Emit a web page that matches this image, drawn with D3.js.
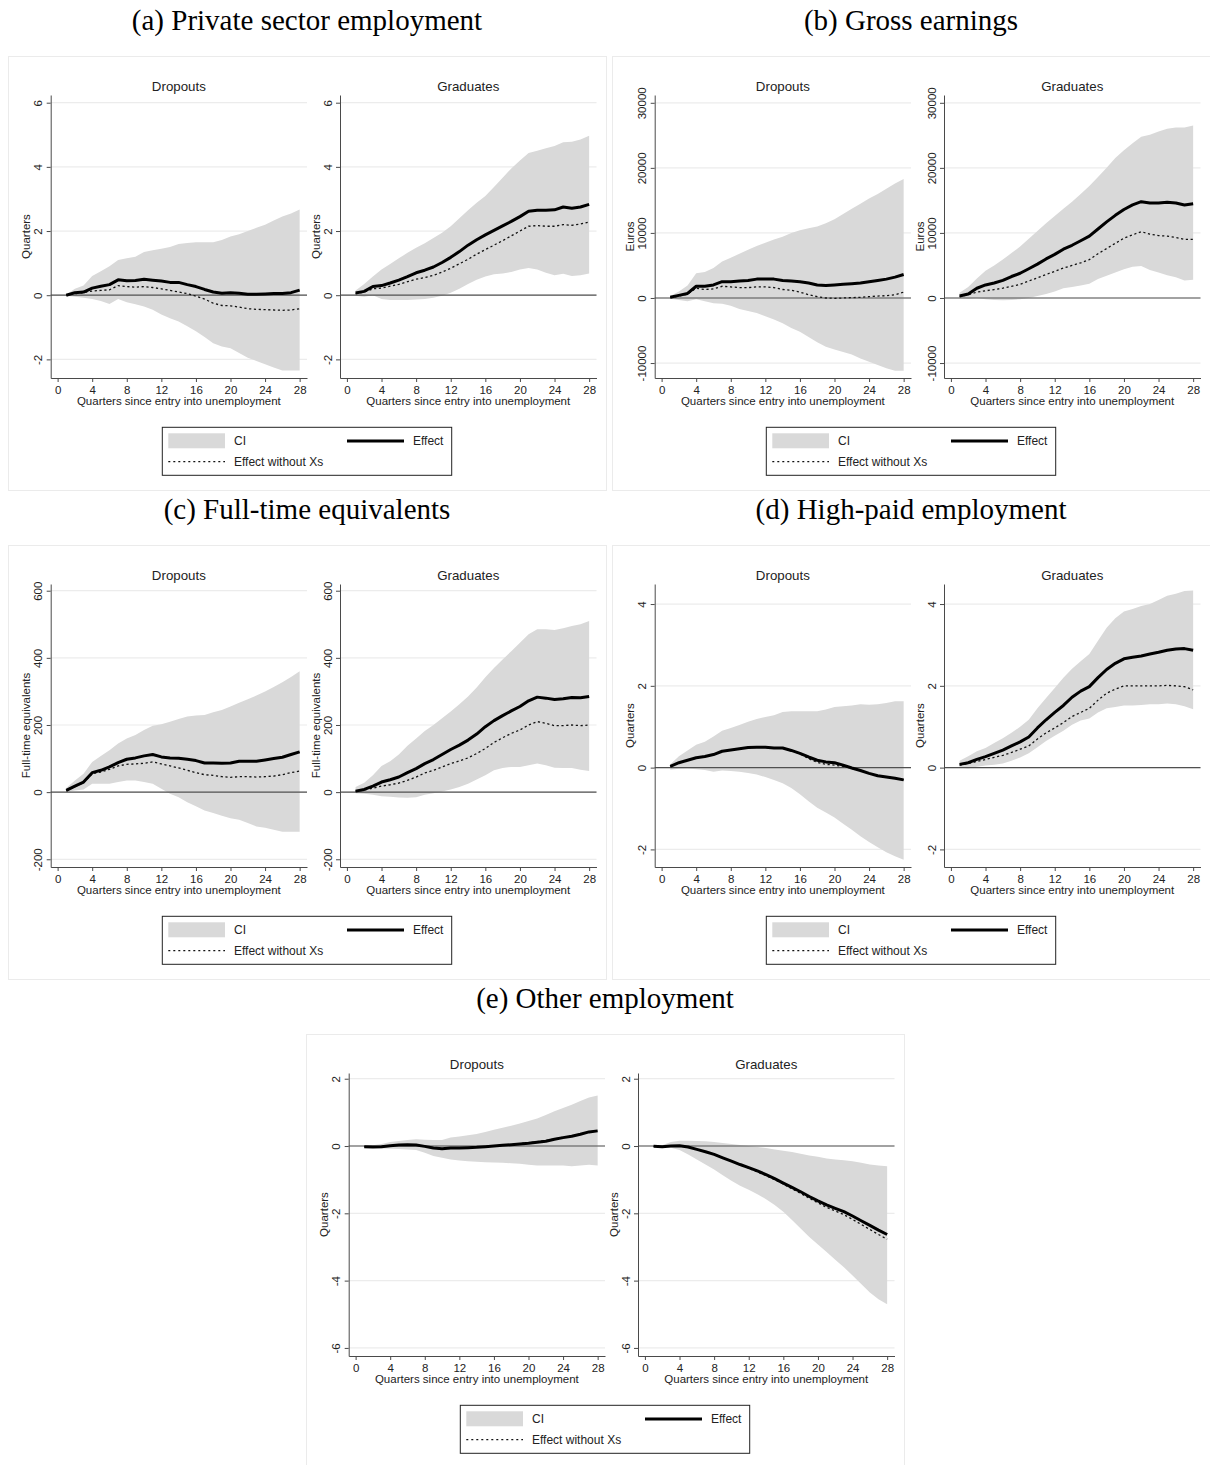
<!DOCTYPE html>
<meta charset="utf-8">
<head>
<script src="https://d3js.org/d3.v7.min.js"></script>
<style>
  body { margin: 0; background: #fff; }
  svg text { font-family: "Liberation Sans", Arial, sans-serif; fill: #222; }
  .ptitle { font-family: "Liberation Serif", "Times New Roman", serif; font-size: 29px; fill: #000; }
</style>
</head>
<body>
<script>
"use strict";
var width = 1210, height = 1465;

// x values and labels
var quarters = d3.range(1, 29);
var xTicks = [0, 4, 8, 12, 16, 20, 24, 28];
var groupNames = ["Dropouts", "Graduates"];
var panelTitles = ["(a) Private sector employment", "(b) Gross earnings", "(c) Full-time equivalents",
                   "(d) High-paid employment", "(e) Other employment"];
var yLabels = ["Quarters", "Euros", "Full-time equivalents", "Quarters", "Quarters"];
var yTicks = [[-2, 0, 2, 4, 6], [-10000, 0, 10000, 20000, 30000], [-200, 0, 200, 400, 600],
              [-2, 0, 2, 4], [-6, -4, -2, 0, 2]];
var legendLabels = ["CI", "Effect", "Effect without Xs"];

// (a) private sector employment
var privDropEffect = [0, .08, .1, .22, .28, .33, .48, .45, .46, .5, .47, .44, .4, .4, .33, .27, .18, .1, .06, .08, .06, .03, .03, .04, .05, .05, .08, .16];
var privDropNoX = [0, .05, .08, .13, .15, .17, .3, .27, .25, .27, .24, .2, .15, .1, .05, -.03, -.12, -.25, -.32, -.33, -.37, -.42, -.44, -.45, -.46, -.47, -.46, -.42];
var privDropLo = [-.02, -.05, -.08, -.12, -.18, -.27, -.12, -.22, -.28, -.35, -.45, -.6, -.72, -.82, -.97, -1.12, -1.3, -1.5, -1.6, -1.65, -1.8, -1.95, -2.05, -2.15, -2.25, -2.35, -2.35, -2.35];
var privDropHi = [.02, .2, .3, .6, .75, .9, 1.1, 1.15, 1.2, 1.35, 1.4, 1.45, 1.5, 1.6, 1.63, 1.65, 1.65, 1.65, 1.72, 1.83, 1.9, 2.0, 2.1, 2.2, 2.33, 2.45, 2.55, 2.67];
var privGradEffect = [.07, .12, .27, .3, .38, .47, .58, .7, .78, .88, 1.02, 1.18, 1.36, 1.56, 1.73, 1.88, 2.02, 2.16, 2.3, 2.45, 2.62, 2.65, 2.65, 2.66, 2.75, 2.71, 2.75, 2.83];
var privGradNoX = [.05, .1, .2, .22, .28, .34, .42, .5, .55, .62, .72, .84, .98, 1.12, 1.28, 1.42, 1.56, 1.7, 1.85, 2.0, 2.15, 2.17, 2.15, 2.15, 2.2, 2.18, 2.22, 2.28];
var privGradLo = [-.02, -.05, 0, -.12, -.15, -.15, -.15, -.13, -.12, -.08, -.02, .08, .2, .35, .48, .58, .65, .68, .72, .8, .85, .8, .7, .62, .67, .6, .62, .68];
var privGradHi = [.15, .35, .58, .8, .97, 1.15, 1.32, 1.48, 1.62, 1.78, 1.95, 2.15, 2.4, 2.65, 2.88, 3.09, 3.37, 3.66, 3.95, 4.2, 4.43, 4.5, 4.58, 4.65, 4.77, 4.78, 4.85, 4.97];

// (b) gross earnings
var earnDropEffect = [100, 400, 700, 1800, 1800, 2000, 2500, 2500, 2600, 2700, 2900, 2900, 2900, 2700, 2600, 2500, 2300, 2000, 1900, 2000, 2100, 2200, 2300, 2500, 2700, 2900, 3200, 3600];
var earnDropNoX = [50, 300, 600, 1500, 1300, 1400, 1800, 1700, 1600, 1600, 1700, 1700, 1600, 1300, 1200, 900, 500, 200, 0, -50, 0, 50, 100, 200, 300, 350, 500, 900];
var earnDropLo = [-100, -300, -500, -200, -500, -800, -900, -1200, -1700, -2000, -2300, -2800, -3300, -3900, -4600, -5200, -6000, -6800, -7500, -7900, -8300, -8700, -9300, -9800, -10300, -10800, -11200, -11200];
var earnDropHi = [300, 1000, 1900, 3800, 4000, 4600, 5600, 6200, 6800, 7400, 8000, 8500, 9000, 9400, 10000, 10400, 10700, 11000, 11500, 12100, 12900, 13700, 14500, 15300, 16000, 16800, 17600, 18300];
var earnGradEffect = [300, 600, 1500, 2000, 2300, 2700, 3300, 3800, 4500, 5200, 6000, 6700, 7500, 8100, 8800, 9500, 10600, 11700, 12700, 13600, 14300, 14800, 14600, 14600, 14700, 14600, 14300, 14500];
var earnGradNoX = [200, 500, 900, 1100, 1300, 1500, 1800, 2100, 2600, 3100, 3600, 4100, 4600, 5000, 5400, 5900, 6800, 7600, 8400, 9200, 9700, 10200, 9800, 9600, 9500, 9300, 9000, 9000];
var earnGradLo = [0, -100, 0, -200, -300, -350, -300, -200, 0, 300, 600, 1000, 1500, 1700, 1900, 2200, 2900, 3400, 3900, 4400, 4800, 4900, 4300, 3900, 3500, 3200, 2700, 2800];
var earnGradHi = [800, 1700, 3000, 4200, 5000, 5900, 6900, 7900, 9100, 10300, 11500, 12600, 13700, 14800, 16000, 17200, 18600, 20000, 21500, 22700, 23800, 24800, 25100, 25600, 26000, 26200, 26200, 26500];

// (c) full-time equivalents
var fteDropEffect = [5, 18, 30, 58, 65, 75, 88, 98, 102, 108, 112, 105, 102, 101, 98, 94, 87, 87, 86, 87, 92, 92, 92, 96, 100, 104, 112, 120];
var fteDropNoX = [4, 16, 28, 55, 60, 68, 78, 83, 84, 86, 90, 84, 78, 72, 65, 58, 52, 50, 46, 44, 46, 46, 45, 46, 48, 52, 58, 63];
var fteDropLo = [0, 5, 8, 25, 25, 25, 30, 35, 35, 30, 25, 10, -5, -15, -30, -42, -55, -62, -70, -78, -82, -92, -102, -106, -112, -118, -118, -118];
var fteDropHi = [12, 35, 55, 90, 108, 125, 145, 160, 170, 185, 198, 202, 210, 218, 225, 228, 230, 238, 245, 255, 266, 277, 288, 300, 313, 327, 343, 360];
var fteGradEffect = [3, 8, 18, 30, 37, 45, 58, 70, 85, 97, 112, 127, 140, 155, 173, 195, 213, 228, 242, 255, 272, 283, 280, 276, 278, 282, 281, 285];
var fteGradNoX = [2, 6, 12, 18, 22, 27, 35, 45, 57, 65, 75, 85, 93, 102, 115, 130, 148, 162, 175, 185, 200, 210, 205, 198, 198, 200, 198, 200];
var fteGradLo = [-3, -5, -8, -12, -14, -16, -17, -15, -8, -3, 2, 8, 15, 25, 38, 50, 65, 72, 75, 75, 80, 85, 80, 73, 72, 72, 67, 63];
var fteGradHi = [15, 28, 50, 78, 92, 112, 138, 160, 182, 200, 220, 240, 262, 285, 312, 342, 370, 395, 420, 445, 470, 485, 485, 483, 488, 495, 500, 510];

// (d) high-paid employment
var hpDropEffect = [.03, .12, .18, .24, .27, .32, .4, .43, .46, .49, .5, .5, .48, .48, .42, .35, .26, .18, .14, .12, .06, -.01, -.07, -.14, -.2, -.23, -.26, -.3];
var hpDropNoX = [.03, .12, .18, .24, .27, .32, .4, .43, .46, .49, .5, .5, .48, .48, .42, .34, .22, .13, .08, .06, .03, -.02, -.07, -.14, -.2, -.23, -.26, -.3];
var hpDropLo = [-.05, -.03, -.02, -.04, -.06, -.1, -.07, -.08, -.1, -.13, -.17, -.23, -.3, -.38, -.5, -.65, -.82, -.98, -1.1, -1.22, -1.37, -1.52, -1.68, -1.82, -1.95, -2.07, -2.17, -2.25];
var hpDropHi = [.08, .28, .42, .56, .63, .76, .9, .97, 1.04, 1.12, 1.19, 1.24, 1.28, 1.36, 1.38, 1.38, 1.38, 1.38, 1.42, 1.48, 1.5, 1.52, 1.55, 1.54, 1.55, 1.58, 1.62, 1.62];
var hpGradEffect = [.08, .12, .2, .27, .35, .43, .53, .63, .75, .97, 1.17, 1.35, 1.52, 1.72, 1.87, 1.98, 2.2, 2.4, 2.55, 2.66, 2.7, 2.73, 2.78, 2.82, 2.87, 2.9, 2.91, 2.87];
var hpGradNoX = [.06, .1, .15, .2, .25, .3, .37, .45, .53, .7, .85, .97, 1.1, 1.25, 1.35, 1.45, 1.65, 1.82, 1.92, 2.0, 2.0, 2.0, 2.0, 2.0, 2.01, 2.0, 1.98, 1.9];
var hpGradLo = [0, -.02, .02, .05, .07, .1, .17, .25, .35, .5, .65, .78, .9, 1.05, 1.15, 1.2, 1.35, 1.45, 1.48, 1.52, 1.52, 1.53, 1.55, 1.55, 1.57, 1.55, 1.5, 1.43];
var hpGradHi = [.17, .28, .4, .48, .6, .72, .85, 1.0, 1.17, 1.45, 1.7, 1.95, 2.2, 2.42, 2.6, 2.78, 3.1, 3.42, 3.65, 3.82, 3.88, 3.95, 4.0, 4.1, 4.2, 4.25, 4.32, 4.33];

// (e) other employment
var othDropEffect = [-.02, -.03, -.02, .01, .03, .04, .03, -.01, -.06, -.08, -.06, -.06, -.05, -.04, -.02, 0, .02, .04, .06, .08, .11, .14, .2, .25, .29, .35, .42, .45];
var othDropNoX = [-.02, -.03, -.02, .01, .03, .04, .03, -.01, -.06, -.08, -.06, -.06, -.05, -.04, -.02, 0, .02, .04, .07, .1, .13, .16, .21, .26, .3, .35, .42, .45];
var othDropLo = [-.04, -.06, -.07, -.08, -.09, -.1, -.12, -.2, -.3, -.35, -.4, -.43, -.45, -.47, -.48, -.49, -.5, -.51, -.53, -.56, -.58, -.58, -.58, -.58, -.6, -.58, -.56, -.58];
var othDropHi = [0, .02, .06, .12, .15, .18, .2, .19, .18, .18, .25, .28, .32, .36, .42, .48, .54, .6, .67, .74, .82, .92, 1.03, 1.13, 1.23, 1.34, 1.44, 1.5];
var othGradEffect = [-.01, -.02, 0, .01, -.03, -.1, -.17, -.25, -.35, -.45, -.55, -.64, -.74, -.85, -.97, -1.1, -1.23, -1.36, -1.5, -1.63, -1.75, -1.85, -1.95, -2.08, -2.22, -2.36, -2.5, -2.63];
var othGradNoX = [-.01, -.02, 0, .01, -.03, -.1, -.17, -.25, -.35, -.45, -.56, -.66, -.77, -.88, -1.0, -1.13, -1.27, -1.41, -1.55, -1.69, -1.82, -1.93, -2.04, -2.18, -2.33, -2.48, -2.63, -2.77];
var othGradLo = [-.02, -.04, -.05, -.12, -.25, -.4, -.55, -.7, -.87, -1.03, -1.18, -1.3, -1.43, -1.58, -1.75, -1.95, -2.2, -2.45, -2.7, -2.93, -3.15, -3.38, -3.6, -3.85, -4.1, -4.35, -4.55, -4.7];
var othGradHi = [0, .02, .12, .16, .16, .15, .14, .12, .09, .06, .03, 0, -.03, -.06, -.1, -.14, -.18, -.23, -.28, -.32, -.37, -.4, -.42, -.45, -.5, -.55, -.58, -.6];

// layout of the five panels (position + y range of the plot region)
var panels = [
  { x0: 8,   y0: 56,   dom: [-2.58, 6.24],
    groups: [[privDropEffect, privDropNoX, privDropLo, privDropHi], [privGradEffect, privGradNoX, privGradLo, privGradHi]] },
  { x0: 612, y0: 56,   dom: [-12300, 31200],
    groups: [[earnDropEffect, earnDropNoX, earnDropLo, earnDropHi], [earnGradEffect, earnGradNoX, earnGradLo, earnGradHi]] },
  { x0: 8,   y0: 545,  dom: [-223, 620],
    groups: [[fteDropEffect, fteDropNoX, fteDropLo, fteDropHi], [fteGradEffect, fteGradNoX, fteGradLo, fteGradHi]] },
  { x0: 612, y0: 545,  dom: [-2.43, 4.49],
    groups: [[hpDropEffect, hpDropNoX, hpDropLo, hpDropHi], [hpGradEffect, hpGradNoX, hpGradLo, hpGradHi]] },
  { x0: 306, y0: 1034, dom: [-6.24, 2.17],
    groups: [[othDropEffect, othDropNoX, othDropLo, othDropHi], [othGradEffect, othGradNoX, othGradLo, othGradHi]] }
];

var panelW = 598, panelH = 434;
var plotTop = 39, plotBottom = 322;
var subplots = [{ left: 42.7, right: 299 }, { left: 332, right: 588.5 }];
var ciColor = "#d9d9d9", axisColor = "#4a4a4a";

var svg = d3.select("body").append("svg")
  .attr("width", width)
  .attr("height", height);

panels.forEach(function(p, pi) {
  var g = svg.append("g").attr("transform", "translate(" + p.x0 + "," + p.y0 + ")");

  g.append("rect")
    .attr("x", 0.5).attr("y", 0.5)
    .attr("width", panelW).attr("height", panelH)
    .attr("fill", "#fff")
    .attr("stroke", "#ebebeb");

  svg.append("text")
    .attr("class", "ptitle")
    .attr("x", p.x0 + panelW / 2)
    .attr("y", p.y0 - 26)
    .attr("text-anchor", "middle")
    .text(panelTitles[pi]);

  subplots.forEach(function(s, gi) {
    var ser = p.groups[gi];
    var rows = quarters.map(function(q, i) {
      return { q: q, eff: ser[0][i], nox: ser[1][i], lo: ser[2][i], hi: ser[3][i] };
    });

    var x = d3.scaleLinear().domain([-0.8, 28.85]).range([s.left, s.right]);
    var y = d3.scaleLinear().domain(p.dom).range([plotBottom, plotTop]);
    var sg = g.append("g");

    // gridlines
    sg.append("g").selectAll("line")
      .data(yTicks[pi])
      .enter().append("line")
        .attr("x1", s.left).attr("x2", s.right)
        .attr("y1", d => y(d)).attr("y2", d => y(d))
        .attr("stroke", "#ececec")
        .attr("stroke-width", 1.2);

    // confidence band
    sg.append("path")
      .datum(rows)
      .attr("fill", ciColor)
      .attr("d", d3.area().x(d => x(d.q)).y0(d => y(d.lo)).y1(d => y(d.hi)));

    // zero line
    sg.append("line")
      .attr("x1", s.left).attr("x2", s.right)
      .attr("y1", y(0)).attr("y2", y(0))
      .attr("stroke", "#505050")
      .attr("stroke-width", 1.2);

    sg.append("path")
      .datum(rows)
      .attr("fill", "none")
      .attr("stroke", "#111")
      .attr("stroke-width", 1.3)
      .attr("stroke-dasharray", "2.2,2.6")
      .attr("d", d3.line().x(d => x(d.q)).y(d => y(d.nox)));

    sg.append("path")
      .datum(rows)
      .attr("fill", "none")
      .attr("stroke", "#000")
      .attr("stroke-width", 3)
      .attr("stroke-linejoin", "round")
      .attr("d", d3.line().x(d => x(d.q)).y(d => y(d.eff)));

    // y axis with rotated labels (plain hyphen for negatives, as in the original)
    var ya = sg.append("g")
      .attr("transform", "translate(" + s.left + ",0)")
      .call(d3.axisLeft(y).tickValues(yTicks[pi]).tickSize(4).tickSizeOuter(0).tickFormat(d => String(d)));
    ya.selectAll("text")
      .attr("x", 0).attr("dy", null)
      .attr("text-anchor", "middle")
      .attr("transform", "translate(-8.4,0) rotate(-90)")
      .style("font-size", "11.5px");

    // x axis
    var xa = sg.append("g")
      .attr("transform", "translate(0," + plotBottom + ")")
      .call(d3.axisBottom(x).tickValues(xTicks).tickSize(4).tickSizeOuter(0).tickPadding(3.8));
    xa.selectAll("text").style("font-size", "11.5px");

    [ya, xa].forEach(function(a) {
      a.attr("font-family", null).attr("font-size", null);
      a.select(".domain").attr("stroke", axisColor);
      a.selectAll(".tick line").attr("stroke", axisColor);
    });

    sg.append("text")
      .attr("transform", "translate(" + (s.left - 20.5) + "," + ((plotTop + plotBottom) / 2) + ") rotate(-90)")
      .attr("text-anchor", "middle")
      .style("font-size", "11.5px")
      .text(yLabels[pi]);

    sg.append("text")
      .attr("x", (s.left + s.right) / 2)
      .attr("y", plotBottom + 27)
      .attr("text-anchor", "middle")
      .style("font-size", "11.5px")
      .text("Quarters since entry into unemployment");

    sg.append("text")
      .attr("x", (s.left + s.right) / 2)
      .attr("y", 34.5)
      .attr("text-anchor", "middle")
      .style("font-size", "13.3px")
      .text(groupNames[gi]);
  });

  // legend
  var lg = g.append("g").attr("transform", "translate(154.3,371.3)");
  lg.append("rect")
    .attr("width", 289.4).attr("height", 48)
    .attr("fill", "#fff")
    .attr("stroke", "#222");
  lg.append("rect")
    .attr("x", 6).attr("y", 6)
    .attr("width", 56.7).attr("height", 15)
    .attr("fill", ciColor);
  lg.append("line")
    .attr("x1", 184.7).attr("x2", 241.7)
    .attr("y1", 13.7).attr("y2", 13.7)
    .attr("stroke", "#000").attr("stroke-width", 3);
  lg.append("line")
    .attr("x1", 6).attr("x2", 62.7)
    .attr("y1", 34.4).attr("y2", 34.4)
    .attr("stroke", "#111").attr("stroke-width", 1.2)
    .attr("stroke-dasharray", "2,3");
  [[71.7, 18, 0], [250.7, 18, 1], [71.7, 38.7, 2]].forEach(function(t) {
    lg.append("text")
      .attr("x", t[0]).attr("y", t[1])
      .style("font-size", "12px")
      .text(legendLabels[t[2]]);
  });
});
</script>
</body>
